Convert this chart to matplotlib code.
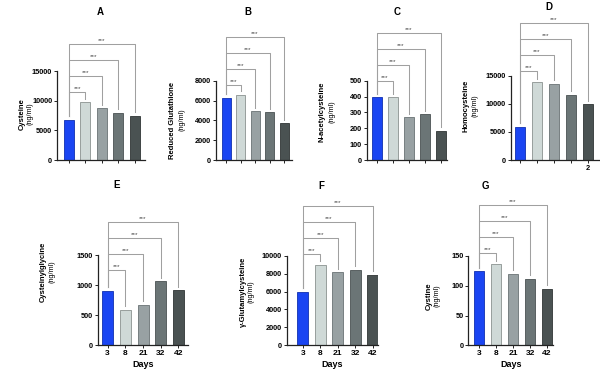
import numpy as np
import matplotlib
matplotlib.use("Agg")
import matplotlib.pyplot as plt

plt.rcParams['font.family'] = ['Liberation Sans', 'DejaVu Sans']

# data
days = ['3', '8', '21', '32', '42']
cysteine = [6800, 9700, 8700, 8000, 7500]
glutathione = [6300, 6600, 4900, 4850, 3750]
nac = [395, 395, 270, 290, 185]
homocysteine = [5900, 13900, 13600, 11600, 9900]
cysgly = [910, 590, 680, 1070, 920]
glucys = [6000, 9000, 8150, 8400, 7900]
cystine = [124, 136, 120, 112, 95]

bar_colors = ['#1a45f2', '#cfd9d7', '#98a1a3', '#6b7576', '#4a5252']
edge_colors = ['#1030b0', '#8a9290', '#6a7274', '#4a5253', '#2f3535']

W, H = 600, 373
fig = plt.figure(figsize=(6, 3.73), dpi=100)

def px_axes(x0, x1, ytop, ybot):
    return fig.add_axes([x0 / W, 1 - ybot / H, (x1 - x0) / W, (ybot - ytop) / H])

# panel: letter, values, ymax, tick step, ylabel, axes px box, xlim, first bracket (axes frac), title pos, ylabel pos
panels = [
    dict(letter='A', vals=cysteine, ymax=15000, step=5000, name='Cysteine',
         box=(57, 145, 71, 160), xlim=(-0.73, 4.63), br0=0.764, title=(100, 12),
         lab=(22, 30, 114), xt=None),
    dict(letter='B', vals=glutathione, ymax=8000, step=2000, name='Reduced Glutathione',
         box=(216, 292, 80.7, 160), xlim=(-0.69, 4.55), br0=0.946, title=(248, 12),
         lab=(172, 182, 120), xt=None),
    dict(letter='C', vals=nac, ymax=500, step=100, name='N-acetylcysteine',
         box=(366.7, 447, 80.7, 160), xlim=(-0.62, 4.35), br0=1.0, title=(397, 12),
         lab=(322, 331.5, 112), xt=None),
    dict(letter='D', vals=homocysteine, ymax=15000, step=5000, name='Homocysteine',
         box=(510.7, 599, 75.7, 160), xlim=(-0.55, 4.65), br0=1.06, title=(549, 7),
         lab=(466, 474.5, 106), xt=['', '', '', '', '2']),
    dict(letter='E', vals=cysgly, ymax=1500, step=500, name='Cysteinylglycine',
         box=(97.7, 188, 255.3, 345.3), xlim=(-0.56, 4.54), br0=0.833, title=(117, 185),
         lab=(43, 52.5, 272), xt=days),
    dict(letter='F', vals=glucys, ymax=10000, step=2000, name='γ-Glutamylcysteine',
         box=(286.7, 378, 255.7, 345.3), xlim=(-0.91, 4.29), br0=1.022, title=(321, 186),
         lab=(243.5, 251, 292), xt=days),
    dict(letter='G', vals=cystine, ymax=150, step=50, name='Cystine',
         box=(468.3, 553, 256, 345.3), xlim=(-0.63, 4.35), br0=1.03, title=(485, 186),
         lab=(429.5, 437, 296), xt=days),
]

for p in panels:
    x0, x1, ytop, ybot = p['box']
    ax = px_axes(x0, x1, ytop, ybot)
    x = np.arange(len(p['vals']))
    ymax = p['ymax']
    ax.bar(x, p['vals'], width=0.62, color=bar_colors, edgecolor=edge_colors, linewidth=0.6)
    ax.set_xlim(*p['xlim'])
    ax.set_ylim(0, ymax)
    ax.set_yticks(np.arange(0, ymax + 1, p['step']))
    ax.set_xticks(x)
    if p['xt'] is None:
        ax.set_xticklabels([])
    else:
        ax.set_xticklabels(p['xt'])
    for s in ['top', 'right']:
        ax.spines[s].set_visible(False)
    for s in ['left', 'bottom']:
        ax.spines[s].set_linewidth(0.9)
        ax.spines[s].set_color('#222222')
    ax.tick_params(axis='both', length=2.5, width=0.7, color='#222222', labelsize=5.3, pad=1)
    for t in ax.get_yticklabels() + ax.get_xticklabels():
        t.set_fontweight('bold')
    if p['xt'] is days:
        ax.tick_params(axis='x', labelsize=6)
        ax.set_xlabel('Days', fontsize=6.5, fontweight='bold', labelpad=2)

    # significance brackets from first bar to each other bar
    step_frac = 16.0 / (ybot - ytop)
    gap = 0.04 * ymax
    for k in range(1, len(p['vals'])):
        h = (p['br0'] + (k - 1) * step_frac) * ymax
        ax.plot([0, 0, k, k], [p['vals'][0] + gap, h, h, p['vals'][k] + gap],
                color='#a0a0a0', lw=0.75, clip_on=False)
        ax.text(k / 2, h + 0.012 * ymax, '***', ha='center', va='bottom',
                fontsize=4.6, color='#444444')

    fig.text(p['title'][0] / W, 1 - p['title'][1] / H, p['letter'], ha='center', va='center',
             fontsize=7, fontweight='bold')
    lx1, lx2, ly = p['lab']
    fig.text(lx1 / W, 1 - ly / H, p['name'], rotation=90, ha='center', va='center',
             fontsize=5.5, fontweight='bold')
    fig.text(lx2 / W, 1 - ly / H, '(ng/ml)', rotation=90, ha='center', va='center',
             fontsize=5.2)

fig.savefig('out.png', dpi=100)
